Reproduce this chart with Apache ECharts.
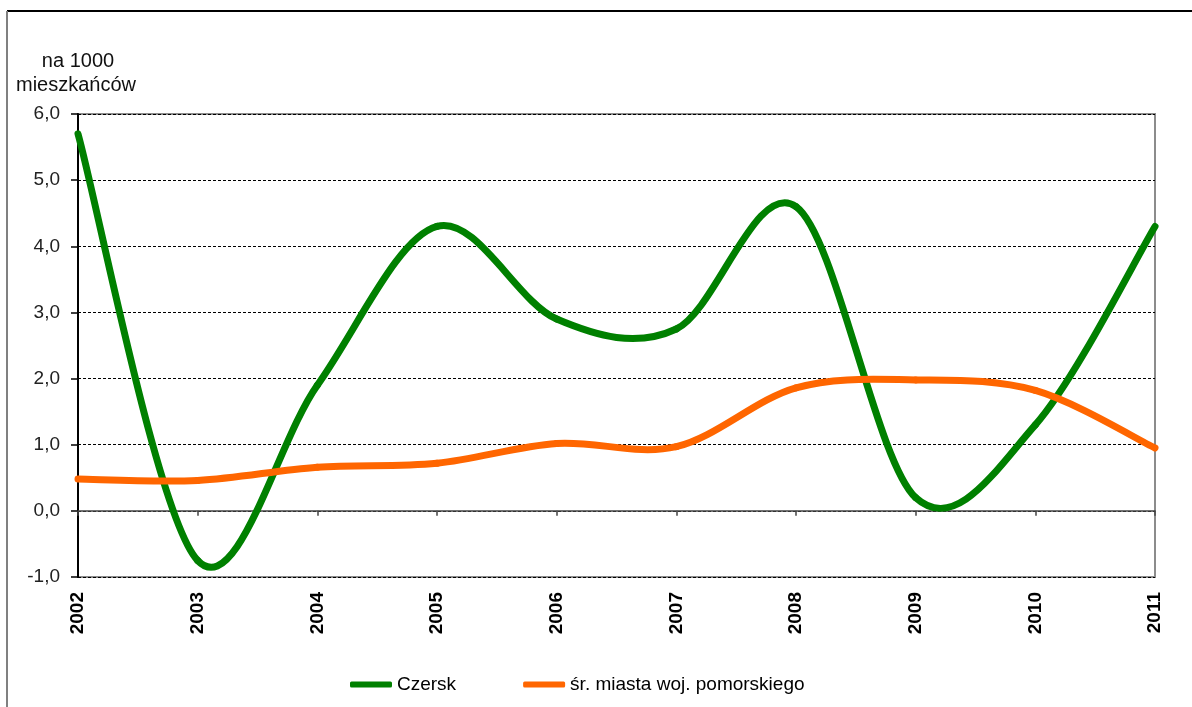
<!DOCTYPE html>
<html>
<head>
<meta charset="utf-8">
<script src="https://cdn.jsdelivr.net/npm/echarts@6/dist/echarts.min.js"></script>
<style>
  html, body { margin: 0; padding: 0; background: #fff; }
  #chart { width: 1192px; height: 707px; }
</style>
</head>
<body>
<div id="chart"></div>
<script>
// Years on the category axis
var years = ['2002', '2003', '2004', '2005', '2006', '2007', '2008', '2009', '2010', '2011'];
// Values per 1000 inhabitants
var czersk = [5.7, -0.75, 1.9, 4.3, 2.9, 2.75, 4.6, 0.2, 1.3, 4.3];
var pomorskie = [0.48, 0.46, 0.66, 0.72, 1.02, 0.97, 1.86, 1.98, 1.82, 0.95];
// Value axis range and step
var yMin = -1, yMax = 6, yStep = 1;
var seriesNames = ['Czersk', 'śr. miasta woj. pomorskiego'];
var seriesColors = ['#008000', '#ff6600'];
var unitLines = ['na 1000', 'mieszkańców'];

var font = 'Liberation Sans, Arial, sans-serif';
var chart = echarts.init(document.getElementById('chart'), null, { renderer: 'canvas' });

// Smoothed line: each segment is a cubic Bezier whose control points come from
// the neighbouring points (Catmull-Rom tangents), positioned through the axes.
function renderSmoothSegment(params, api) {
  var i = params.dataIndexInside;
  var n = params.dataInsideLength;
  if (i >= n - 1) return null;
  function pt(k) {
    k = Math.max(0, Math.min(n - 1, k));
    return api.coord([api.value(0, k), api.value(1, k)]);
  }
  var p0 = pt(i - 1), p1 = pt(i), p2 = pt(i + 1), p3 = pt(i + 2);
  return {
    type: 'bezierCurve',
    shape: {
      x1: p1[0], y1: p1[1],
      x2: p2[0], y2: p2[1],
      cpx1: p1[0] + (p2[0] - p0[0]) / 6, cpy1: p1[1] + (p2[1] - p0[1]) / 6,
      cpx2: p2[0] - (p3[0] - p1[0]) / 6, cpy2: p2[1] - (p3[1] - p1[1]) / 6
    },
    style: { stroke: api.visual('color'), lineWidth: 7, fill: 'none', lineCap: 'round' }
  };
}

function toPairs(values) {
  return values.map(function (v, i) { return [years[i], v]; });
}

chart.setOption({
  animation: false,
  backgroundColor: '#fff',
  grid: {
    left: 78, right: 37, top: 114, bottom: 130,
    show: true, borderColor: '#8c8c8c', borderWidth: 2, backgroundColor: 'transparent'
  },
  graphic: [
    { type: 'line', shape: { x1: 7, y1: 11, x2: 1192, y2: 11 }, style: { stroke: '#000', lineWidth: 2 } },
    { type: 'line', shape: { x1: 7, y1: 11, x2: 7, y2: 707 }, style: { stroke: '#808080', lineWidth: 2 } },
    { type: 'text', x: 78, y: 61, style: { text: unitLines[0], font: '20px ' + font, fill: '#111', align: 'center', verticalAlign: 'middle' } },
    { type: 'text', x: 76, y: 85, style: { text: unitLines[1], font: '20px ' + font, fill: '#111', align: 'center', verticalAlign: 'middle' } }
  ],
  legend: {
    left: 350, top: 675, padding: 0,
    itemWidth: 42, itemHeight: 6, itemGap: 67,
    icon: 'roundRect',
    textStyle: { fontFamily: font, fontSize: 19, color: '#000' },
    data: seriesNames
  },
  xAxis: [
    {
      type: 'category', data: years, boundaryGap: false,
      axisLine: { onZero: true, lineStyle: { color: '#444', width: 1.5 } },
      axisTick: { show: true, inside: false, length: 5, interval: 0, lineStyle: { color: '#444', width: 1.5 } },
      axisLabel: { show: false },
      splitLine: { show: false }
    },
    {
      type: 'category', data: years, boundaryGap: false, position: 'bottom',
      axisLine: { show: false, onZero: false },
      axisTick: { show: false },
      axisLabel: {
        show: true, rotate: 90, margin: 15, interval: 0,
        fontFamily: font, fontSize: 19, fontWeight: 'bold', color: '#000'
      },
      splitLine: { show: false }
    }
  ],
  yAxis: {
    type: 'value', min: yMin, max: yMax, interval: yStep,
    axisLine: { show: true, lineStyle: { color: '#000', width: 2 } },
    axisTick: { show: true, inside: false, length: 7, lineStyle: { color: '#000', width: 1.5 } },
    axisLabel: {
      margin: 18, fontFamily: font, fontSize: 19, color: '#222',
      formatter: function (v) { return v.toFixed(1).replace('.', ','); }
    },
    splitLine: { show: true, lineStyle: { color: '#000', width: 1, type: [3, 2] } }
  },
  series: [
    {
      name: seriesNames[0], type: 'custom', data: toPairs(czersk), xAxisIndex: 0,
      encode: { x: 0, y: 1 }, renderItem: renderSmoothSegment, clip: false,
      itemStyle: { color: seriesColors[0] }, z: 3
    },
    {
      name: seriesNames[1], type: 'custom', data: toPairs(pomorskie), xAxisIndex: 0,
      encode: { x: 0, y: 1 }, renderItem: renderSmoothSegment, clip: false,
      itemStyle: { color: seriesColors[1] }, z: 4
    }
  ]
});
</script>
</body>
</html>
